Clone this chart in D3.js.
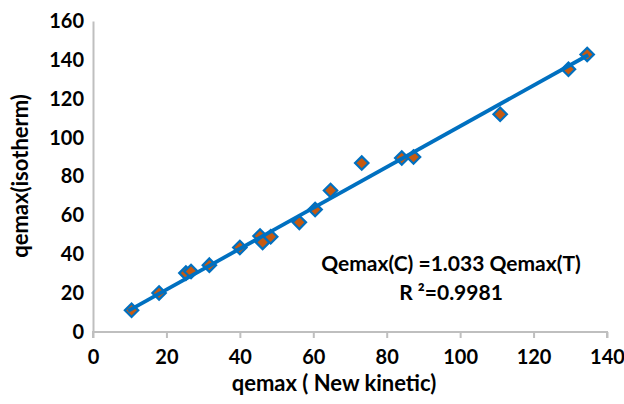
<!DOCTYPE html>
<html>
<head>
<meta charset="utf-8">
<script src="https://cdn.jsdelivr.net/npm/d3@7"></script>
<style>
  body { margin: 0; background: #fff; }
  text { font-family: Lato, "Open Sans", sans-serif; font-weight: bold; fill: #000; }
</style>
</head>
<body>
<svg id="chart" width="624" height="404"></svg>
<script>
// data
var newKinetic = [10.5, 18.0, 25.3, 26.7, 31.7, 40.0, 45.5, 46.2, 48.4, 56.2, 60.5, 64.7,
  73.2, 84.1, 87.3, 110.9, 129.5, 134.6];
var isotherm = [11.2, 20.1, 30.3, 31.1, 34.4, 43.5, 49.4, 46.1, 49.0, 56.4, 63.0, 72.8,
  86.9, 89.5, 90.0, 112.0, 135.2, 142.8];
var trendX = [9.6, 134.9];
var trendY = [10.9, 142.5];
var xTicks = [0, 20, 40, 60, 80, 100, 120, 140];
var yTicks = [0, 20, 40, 60, 80, 100, 120, 140, 160];
var eqLines = ['Qemax(C) =1.033 Qemax(T)', 'R \u00b2=0.9981'];

var svg = d3.select('#chart');
var x = d3.scaleLinear().domain([0, 140]).range([93, 607]);
var y = d3.scaleLinear().domain([0, 160]).range([332, 21]);

// axes
var xAxis = svg.append('g').attr('transform', 'translate(0,' + y(0) + ')')
    .call(d3.axisBottom(x).tickValues(xTicks).tickSize(6).tickPadding(12));
var yAxis = svg.append('g').attr('transform', 'translate(' + x(0) + ',0)')
    .call(d3.axisLeft(y).tickValues(yTicks).tickSize(0).tickPadding(9));
[xAxis, yAxis].forEach(function(a) {
  a.select('.domain').attr('stroke', '#bfbfbf').attr('stroke-width', 2);
  a.selectAll('.tick line').attr('stroke', '#bfbfbf').attr('stroke-width', 2);
  a.selectAll('.tick text').style('font-size', '20px').style('font-family', 'Lato, sans-serif')
      .style('font-weight', 'bold');
});
xAxis.select('.domain').attr('d', 'M' + x(0) + ',6V0H' + x(140) + 'V6');

// points
var pts = newKinetic.map(function(v, i) { return [v, isotherm[i]]; });
svg.append('g').selectAll('path').data(pts).enter().append('path')
    .attr('d', d3.symbol().type(d3.symbolDiamond2).size(115))
    .attr('transform', function(d) { return 'translate(' + x(d[0]) + ',' + y(d[1]) + ')'; })
    .attr('fill', '#c55a11')
    .attr('stroke', '#0070c0')
    .attr('stroke-width', 2.2);

// trend line
svg.append('line')
    .attr('x1', x(trendX[0])).attr('y1', y(trendY[0]))
    .attr('x2', x(trendX[1])).attr('y2', y(trendY[1]))
    .attr('stroke', '#0070c0').attr('stroke-width', 3.8);

// equation
svg.append('g').selectAll('text').data(eqLines).enter().append('text')
    .attr('x', 451).attr('y', function(d, i) { return 271 + i * 29; })
    .attr('text-anchor', 'middle')
    .style('font-size', '21px')
    .text(function(d) { return d; });

// titles
svg.append('text').attr('x', 334).attr('y', 391).attr('text-anchor', 'middle')
    .style('font-size', '22px').text('qemax ( New kinetic)');
svg.append('text').attr('transform', 'translate(28,176) rotate(-90)').attr('text-anchor', 'middle')
    .style('font-size', '22px').text('qemax(isotherm)');
</script>
</body>
</html>
